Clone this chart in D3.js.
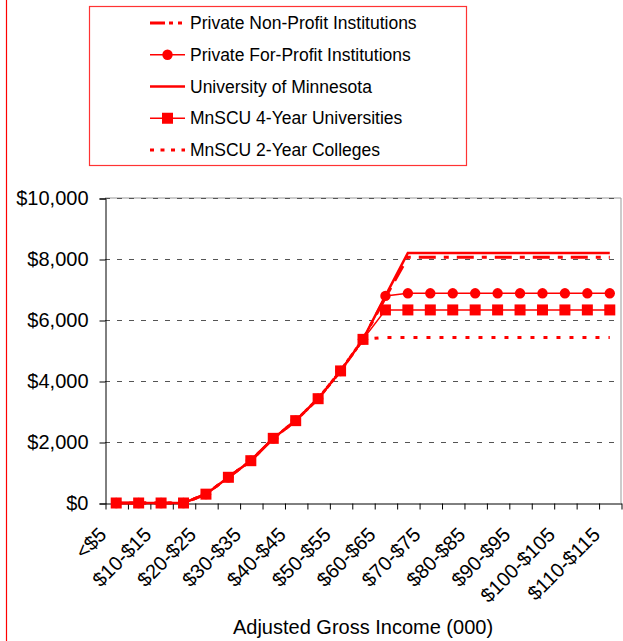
<!DOCTYPE html>
<head>
  <meta charset="utf-8">
  <style>
    body {
      margin: 0;
      background: #fff;
      font-family: 'Liberation Sans', Arial, sans-serif;
    }
    svg text {
      fill: #000;
    }
    .grid line {
      stroke: #555;
      stroke-dasharray: 5, 7;
    }
  </style>
</head>

<body>
  <div id="plot-1"></div>

  <script src="https://d3js.org/d3.v7.min.js"></script>
  <script>
    const categories = ['<$5', '$5-$10', '$10-$15', '$15-$20', '$20-$25', '$25-$30', '$30-$35', '$35-$40',
      '$40-$45', '$45-$50', '$50-$55', '$55-$60', '$60-$65', '$65-$70', '$70-$75', '$75-$80', '$80-$85',
      '$85-$90', '$90-$95', '$95-$100', '$100-$105', '$105-$110', '$110-$115'];

    const privateNonProfit = [0, 0, 0, 0, 290, 843, 1387, 2120, 2700, 3420, 4330, 5365, 6740,
      8060, 8060, 8060, 8060, 8060, 8060, 8060, 8060, 8060, 8060];
    const privateForProfit = [0, 0, 0, 0, 290, 843, 1387, 2120, 2700, 3420, 4330, 5365, 6790,
      6875, 6875, 6875, 6875, 6875, 6875, 6875, 6875, 6875, 6875];
    const uofm = [0, 0, 0, 0, 290, 843, 1387, 2120, 2700, 3420, 4330, 5365, 6790,
      8200, 8200, 8200, 8200, 8200, 8200, 8200, 8200, 8200, 8200];
    const mnscu4yr = [0, 0, 0, 0, 290, 843, 1387, 2120, 2700, 3420, 4330, 5365, 6330,
      6330, 6330, 6330, 6330, 6330, 6330, 6330, 6330, 6330, 6330];
    const mnscu2yr = [0, 0, 0, 0, 290, 843, 1387, 2120, 2700, 3420, 4330, 5365, 5430,
      5430, 5430, 5430, 5430, 5430, 5430, 5430, 5430, 5430, 5430];

    const yTicks = [0, 2000, 4000, 6000, 8000, 10000];

    const series = [
      { name: 'Private Non-Profit Institutions', values: privateNonProfit, width: 3, dash: '17,8,5,8', legendDash: '15,4,4,5,4,5', marker: null },
      { name: 'Private For-Profit Institutions', values: privateForProfit, width: 1.5, dash: null, marker: 'circle' },
      { name: 'University of Minnesota', values: uofm, width: 2.5, dash: null, marker: null },
      { name: 'MnSCU 4-Year Universities', values: mnscu4yr, width: 1.5, dash: null, marker: 'square' },
      { name: 'MnSCU 2-Year Colleges', values: mnscu2yr, width: 3, dash: '4,9', legendDash: '4,6.5', marker: null }
    ];

    const width = 623,
      height = 641,
      margin = { top: 198, right: 2, bottom: 138, left: 105 };

    const x = d3.scaleBand()
      .domain(categories)
      .range([margin.left, width - margin.right]);

    const xEdge = d3.scaleLinear()
      .domain([0, categories.length])
      .range([margin.left, width - margin.right]);

    const y = d3.scaleLinear()
      .domain([0, 10000])
      .range([height - margin.bottom, margin.top]);

    const cx = d => x(d) + x.bandwidth() / 2;

    const svg = d3.select('#plot-1').append('svg')
      .attr('width', width)
      .attr('height', height);

    // red chart border on the left edge
    svg.append('line')
      .attr('x1', 6.5).attr('x2', 6.5)
      .attr('y1', 0).attr('y2', height)
      .attr('stroke', '#f00')
      .attr('stroke-width', 1.2);

    // plot frame (top and right)
    svg.append('path')
      .attr('d', `M${margin.left},${y(10000)}H${width - margin.right}V${y(0)}`)
      .attr('fill', 'none')
      .attr('stroke', '#999')
      .attr('stroke-width', 1);

    svg.append('g')
      .attr('class', 'grid')
      .selectAll('line')
      .data(yTicks.filter(d => d > 0))
      .join('line')
      .attr('x1', margin.left)
      .attr('x2', width - margin.right)
      .attr('y1', d => y(d) + 0.5)
      .attr('y2', d => y(d) + 0.5);

    const yAxis = svg.append('g')
      .attr('transform', `translate(${margin.left + 0.5},0.5)`)
      .call(d3.axisLeft(y)
        .tickValues(yTicks)
        .tickSize(6)
        .tickPadding(11)
        .tickFormat(d3.format('$,')));
    yAxis.select('.domain').attr('stroke', '#000');
    yAxis.selectAll('text')
      .style('font-size', '20px')
      .style('font-family', "'Liberation Sans', Arial, sans-serif");

    const xAxis = svg.append('g')
      .attr('transform', `translate(0.5,${y(0) + 0.5})`)
      .call(d3.axisBottom(xEdge)
        .tickValues(d3.range(categories.length + 1))
        .tickSize(6)
        .tickSizeOuter(0)
        .tickFormat(''));
    xAxis.select('.domain').attr('stroke', '#000');

    svg.append('g')
      .selectAll('text')
      .data(categories.filter((d, i) => i % 2 === 0))
      .join('text')
      .attr('transform', d => `translate(${cx(d) - 8.5},${y(0) + 33}) rotate(-45)`)
      .attr('text-anchor', 'end')
      .style('font-size', '20px')
      .text(d => d);

    svg.append('text')
      .attr('x', (margin.left + width - margin.right) / 2)
      .attr('y', 634)
      .attr('text-anchor', 'middle')
      .style('font-size', '20px')
      .text('Adjusted Gross Income (000)');

    const line = d3.line()
      .x((d, i) => cx(categories[i]))
      .y(d => y(d));

    function drawMarker(g, type, px, py) {
      if (type === 'circle') {
        g.append('circle')
          .attr('cx', px).attr('cy', py).attr('r', 5.2)
          .attr('fill', '#f00');
      } else if (type === 'square') {
        g.append('rect')
          .attr('x', px - 5.5).attr('y', py - 5.5)
          .attr('width', 11).attr('height', 11)
          .attr('fill', '#f00');
      }
    }

    series.forEach(s => {
      const g = svg.append('g');
      g.append('path')
        .datum(s.values)
        .attr('fill', 'none')
        .attr('stroke', '#f00')
        .attr('stroke-width', s.width)
        .attr('stroke-dasharray', s.dash)
        .attr('d', line);
      if (s.marker) {
        s.values.forEach((v, i) => drawMarker(g, s.marker, cx(categories[i]), y(v)));
      }
    });

    // legend
    const legend = svg.append('g');
    legend.append('rect')
      .attr('x', 89.5).attr('y', 6.5)
      .attr('width', 377).attr('height', 159)
      .attr('fill', '#fff')
      .attr('stroke', '#f33')
      .attr('stroke-width', 1.2);

    const legendY = d3.scalePoint()
      .domain(series.map(s => s.name))
      .range([23, 150]);

    series.forEach(s => {
      const ly = legendY(s.name);
      legend.append('line')
        .attr('x1', 150).attr('x2', 185)
        .attr('y1', ly).attr('y2', ly)
        .attr('stroke', '#f00')
        .attr('stroke-width', s.width)
        .attr('stroke-dasharray', s.legendDash || null);
      drawMarker(legend, s.marker, 167.5, ly);
      legend.append('text')
        .attr('x', 190)
        .attr('y', ly)
        .attr('dy', '0.35em')
        .style('font-size', '17.5px')
        .text(s.name);
    });
  </script>
</body>
